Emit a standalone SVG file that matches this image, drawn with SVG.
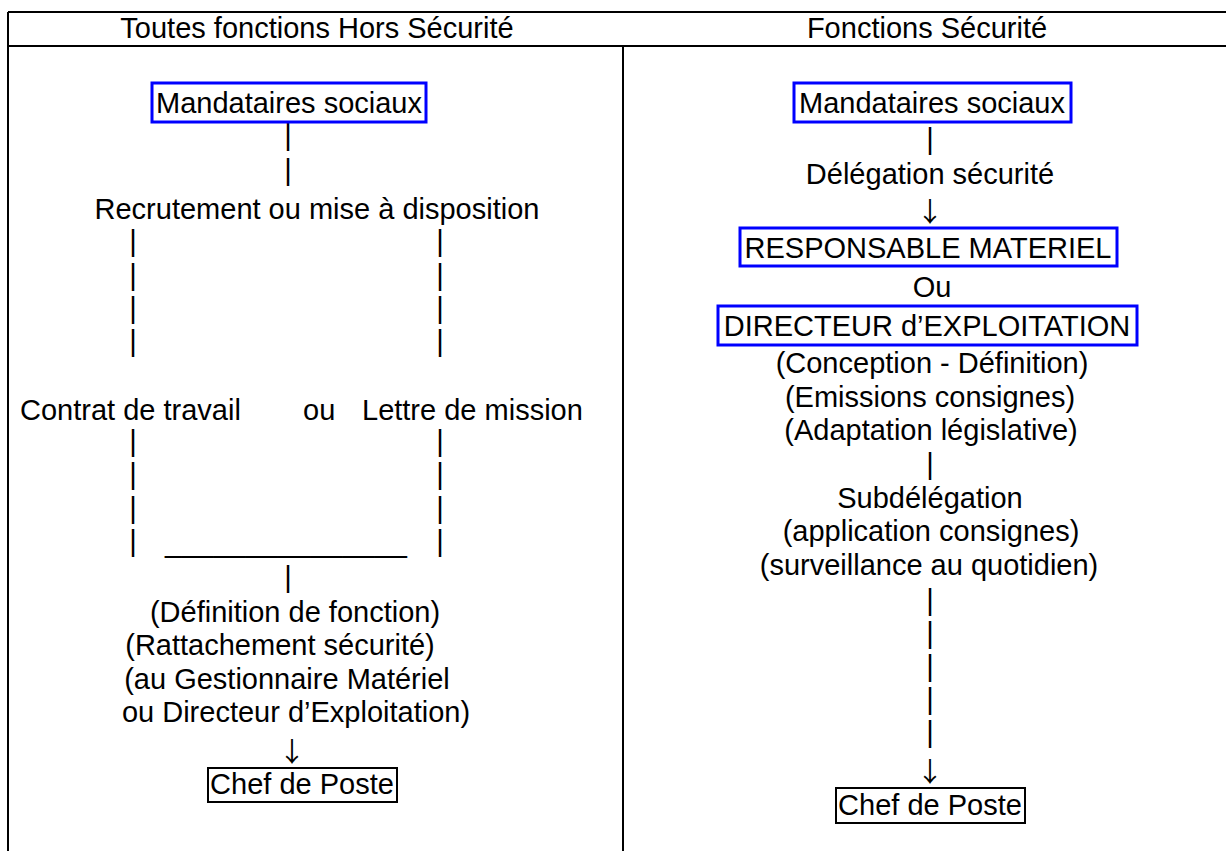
<svg xmlns="http://www.w3.org/2000/svg" width="1226" height="851" viewBox="0 0 1226 851">
<style>
.t{font-family:"Liberation Sans",Arial,sans-serif;font-size:29px;fill:#000;text-anchor:middle}
.s{text-anchor:start}
.ar{font-family:"Noto Sans CJK JP","DejaVu Sans",sans-serif;font-size:27px;fill:#000;text-anchor:middle}
.bb{fill:none;stroke:#0000FF;stroke-width:3}
.kb{fill:none;stroke:#000;stroke-width:2}
.g{stroke:#000;stroke-width:2;fill:none}
</style>
<rect width="1226" height="851" fill="#fff"/>
<g id="table">
<line class="g" x1="8" y1="12" x2="1226" y2="12"/>
<line class="g" x1="8" y1="46" x2="1226" y2="46"/>
<line class="g" x1="8" y1="12" x2="8" y2="851"/>
<line class="g" x1="623" y1="46" x2="623" y2="851"/>
<text class="t" x="317" y="38">Toutes fonctions Hors Sécurité</text>
<text class="t" x="927" y="38">Fonctions Sécurité</text>
</g>
<g id="connectors">
<text class="t" x="288" y="145">|</text>
<text class="t" x="288" y="180">|</text>
<text class="t" x="133" y="251">|</text><text class="t" x="440" y="251">|</text>
<text class="t" x="133" y="285">|</text><text class="t" x="440" y="285">|</text>
<text class="t" x="133" y="318">|</text><text class="t" x="440" y="318">|</text>
<text class="t" x="133" y="351">|</text><text class="t" x="440" y="351">|</text>
<text class="t" x="133" y="451">|</text><text class="t" x="440" y="451">|</text>
<text class="t" x="133" y="484">|</text><text class="t" x="440" y="484">|</text>
<text class="t" x="133" y="518">|</text><text class="t" x="440" y="518">|</text>
<text class="t" x="133" y="551">|</text><text class="t" x="440" y="551">|</text>
<text class="t s" x="165" y="552">_______________</text>
<text class="t" x="288" y="587">|</text>
<text class="ar" x="292" y="762">↓</text>
<text class="t" x="930" y="149">|</text>
<text class="ar" x="930" y="222">↓</text>
<text class="t" x="930" y="474">|</text>
<text class="t" x="930" y="610">|</text>
<text class="t" x="930" y="643">|</text>
<text class="t" x="930" y="676">|</text>
<text class="t" x="930" y="709">|</text>
<text class="t" x="930" y="742">|</text>
<text class="ar" x="930" y="782">↓</text>
</g>
<g id="left-mandataires">
<rect class="bb" x="152" y="83" width="274" height="39"/>
<text class="t" x="289" y="113">Mandataires sociaux</text>
</g>
<g id="left-recrutement">
<text class="t" x="317" y="219">Recrutement ou mise à disposition</text>
</g>
<g id="left-contrat">
<text class="t s" y="420"><tspan x="20">Contrat de travail</tspan><tspan x="303">ou</tspan><tspan x="362">Lettre de mission</tspan></text>
</g>
<g id="left-definition">
<text class="t" x="295" y="622">(Définition de fonction)</text>
<text class="t" x="280" y="655">(Rattachement sécurité)</text>
<text class="t" x="287" y="689">(au Gestionnaire Matériel</text>
<text class="t" x="296" y="722">ou Directeur d’Exploitation)</text>
</g>
<g id="left-chef">
<rect class="kb" x="208" y="768" width="189" height="34"/>
<text class="t" x="302" y="794">Chef de Poste</text>
</g>
<g id="right-mandataires">
<rect class="bb" x="794" y="83" width="277" height="39"/>
<text class="t" x="932" y="113">Mandataires sociaux</text>
</g>
<g id="right-delegation">
<text class="t" x="930" y="184">Délégation sécurité</text>
</g>
<g id="right-responsable">
<rect class="bb" x="740" y="228" width="377" height="38"/>
<text class="t" x="928" y="258">RESPONSABLE MATERIEL</text>
</g>
<g id="right-ou">
<text class="t" x="932" y="297">Ou</text>
</g>
<g id="right-directeur">
<rect class="bb" x="718" y="306" width="419" height="39"/>
<text class="t" x="927" y="336">DIRECTEUR d’EXPLOITATION</text>
</g>
<g id="right-conception">
<text class="t" x="932" y="373">(Conception - Définition)</text>
<text class="t" x="930" y="407">(Emissions consignes)</text>
<text class="t" x="931" y="440">(Adaptation législative)</text>
</g>
<g id="right-subdelegation">
<text class="t" x="930" y="508">Subdélégation</text>
<text class="t" x="931" y="541">(application consignes)</text>
<text class="t" x="929" y="575">(surveillance au quotidien)</text>
</g>
<g id="right-chef">
<rect class="kb" x="836" y="788" width="189" height="35"/>
<text class="t" x="930" y="815">Chef de Poste</text>
</g>
</svg>
